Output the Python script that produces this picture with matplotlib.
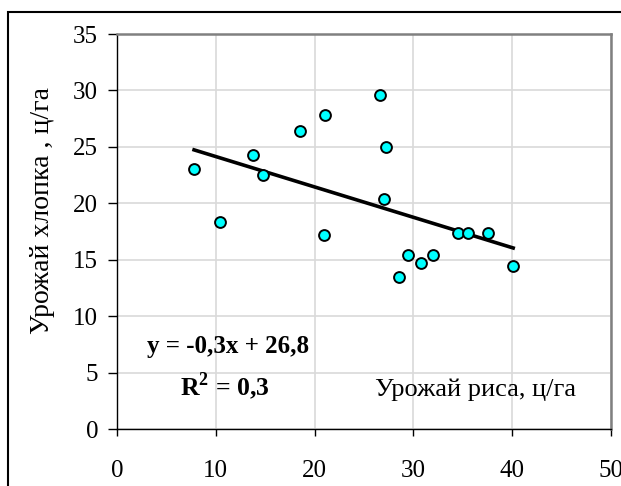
import matplotlib.pyplot as plt
import numpy as np
from matplotlib.patches import Rectangle

plt.rcParams['font.family'] = ['Liberation Serif', 'DejaVu Serif']
plt.rcParams['mathtext.fontset'] = 'custom'
plt.rcParams['mathtext.rm'] = 'Liberation Serif'
plt.rcParams['mathtext.bf'] = 'Liberation Serif:bold'

# урожай риса (x) и хлопка (y), ц/га
rice = [7.8, 10.4, 13.8, 14.8, 18.5, 21.1, 20.95, 26.6, 27.2, 27.0,
        28.5, 29.5, 30.8, 32.0, 34.5, 35.5, 37.5, 40.1]
cotton = [23.0, 18.3, 24.3, 22.5, 26.4, 27.8, 17.2, 29.6, 25.0, 20.4,
          13.5, 15.4, 14.7, 15.4, 17.4, 17.4, 17.4, 14.4]

xticks = [0, 10, 20, 30, 40, 50]
yticks = [0, 5, 10, 15, 20, 25, 30, 35]

f = plt.figure(figsize=(6.21, 4.86), dpi=100)
ax = f.add_axes([117/621, 1 - 429/486, 494/621, 395/486])

ax.set_xlim(0, 50)
ax.set_ylim(0, 35)
ax.set_xticks(xticks)
ax.set_yticks(yticks)
ax.grid(True, color='#d9d9d9', lw=1.2)
ax.set_axisbelow(True)

# linear trend
k, b = np.polyfit(rice, cotton, 1)
xl = np.array([min(rice), max(rice)])
ax.plot(xl, k*xl + b, color='black', lw=2.6, zorder=2)

ax.plot(rice, cotton, 'o', ms=7.8, mfc='#00ffff', mec='black', mew=1.4, zorder=3)

for s in ['top', 'right']:
    ax.spines[s].set_color('#808080')
    ax.spines[s].set_linewidth(1.8)
for s in ['left', 'bottom']:
    ax.spines[s].set_color('black')
    ax.spines[s].set_linewidth(1)

ax.tick_params(axis='x', direction='out', length=5, width=1, pad=17, labelsize=18)
ax.tick_params(axis='y', direction='out', length=6.5, width=1, pad=7, labelsize=18)

ax.set_ylabel('Урожай хлопка , ц/га', fontsize=20)
ax.yaxis.set_label_coords(-0.125, 0.554)

ax.text(0.061, 0.208, 'y = -0,3x + 26,8', transform=ax.transAxes, fontsize=18,
        fontweight='bold', va='center', ha='left')
ax.text(0.128, 0.108, 'R$^\\mathbf{2}$ = 0,3', transform=ax.transAxes, fontsize=18.5,
        fontweight='bold', va='center', ha='left')
ax.text(0.522, 0.099, 'Урожай риса, ц/га', transform=ax.transAxes, fontsize=19,
        va='center', ha='left')

# frame around the chart
f.patches.append(Rectangle((8/621, -0.1), 1.2, 1 - 12/486 + 0.1, transform=f.transFigure,
                           fill=False, ec='black', lw=1.5))

f.savefig('out.png', dpi=100)
